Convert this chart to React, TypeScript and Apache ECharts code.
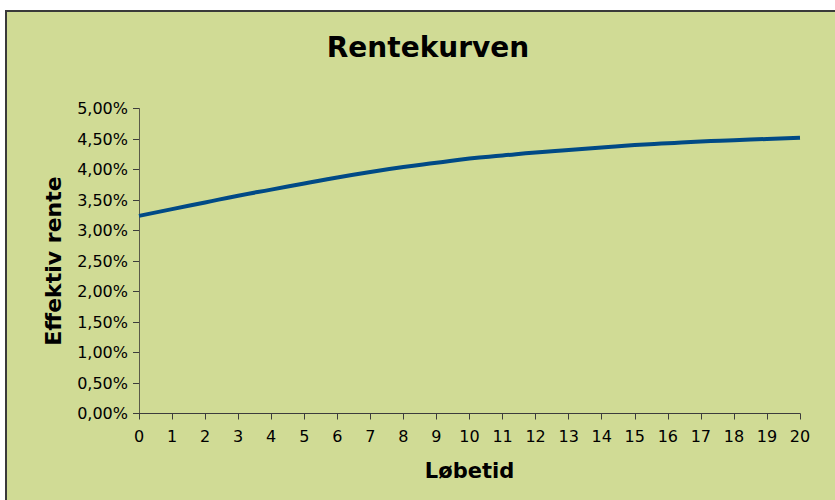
import React, { useEffect, useRef } from "react";
import * as echarts from "echarts";

const years = [0, 1, 2, 3, 4, 5, 6, 7, 8, 9, 10, 11, 12, 13, 14, 15, 16, 17, 18, 19, 20];
const rates = [3.24, 3.35, 3.46, 3.57, 3.67, 3.77, 3.87, 3.96, 4.04, 4.11, 4.18, 4.23, 4.28, 4.32, 4.36, 4.4, 4.43, 4.46, 4.48, 4.5, 4.52];
const titleText = "Rentekurven";
const xName = "Løbetid";
const yName = "Effektiv rente";

export default function App() {
  const ref = useRef<HTMLDivElement>(null);
  useEffect(() => {
    if (!ref.current) return;
    const chart = echarts.init(ref.current, undefined, { renderer: "svg" });
    const font = "Verdana, 'DejaVu Sans', sans-serif";
    chart.setOption({
      animation: false,
      backgroundColor: "#ffffff",
      graphic: [
        {
          type: "rect",
          z: -10,
          silent: true,
          shape: { x: 6, y: 11, width: 840, height: 500 },
          style: { fill: "#D0DB95", stroke: "#3a3a3a", lineWidth: 2 },
        },
        {
          type: "text",
          x: 428,
          y: 47,
          style: {
            text: titleText,
            font: `bold 28px ${font}`,
            fill: "#000",
            textAlign: "center",
            textVerticalAlign: "middle",
          },
        },
      ],
      grid: { left: 139, right: 35, top: 108.5, bottom: 86.5 },
      xAxis: {
        type: "value",
        min: 0,
        max: 20,
        interval: 1,
        name: xName,
        nameLocation: "middle",
        nameGap: 47,
        nameTextStyle: { fontFamily: font, fontWeight: "bold", fontSize: 21, color: "#000" },
        axisLine: { lineStyle: { color: "#3c3c3c", width: 1 } },
        axisTick: { show: true, inside: false, length: 6, lineStyle: { color: "#3c3c3c" } },
        axisLabel: { fontFamily: font, fontSize: 16, color: "#000", margin: 15 },
        splitLine: { show: false },
      },
      yAxis: {
        type: "value",
        min: 0,
        max: 5,
        interval: 0.5,
        name: yName,
        nameLocation: "middle",
        nameGap: 75,
        nameTextStyle: { fontFamily: font, fontWeight: "bold", fontSize: 22, color: "#000" },
        axisLine: { show: true, lineStyle: { color: "#5a5a48", width: 1 } },
        axisTick: { show: true, inside: false, length: 6, lineStyle: { color: "#3c3c3c" } },
        axisLabel: {
          fontFamily: font,
          fontSize: 16,
          color: "#000",
          margin: 11,
          formatter: (v: number) => v.toFixed(2).replace(".", ",") + "%",
        },
        splitLine: { show: false },
      },
      series: [
        {
          type: "line",
          data: years.map((y, i) => [y, rates[i]]),
          smooth: true,
          showSymbol: false,
          lineStyle: { color: "#004A86", width: 4 },
        },
      ],
    });
    return () => chart.dispose();
  }, []);
  return (
    <div
      ref={ref}
      style={{ position: "absolute", left: 0, top: 0, width: 835, height: 500 }}
    />
  );
}
